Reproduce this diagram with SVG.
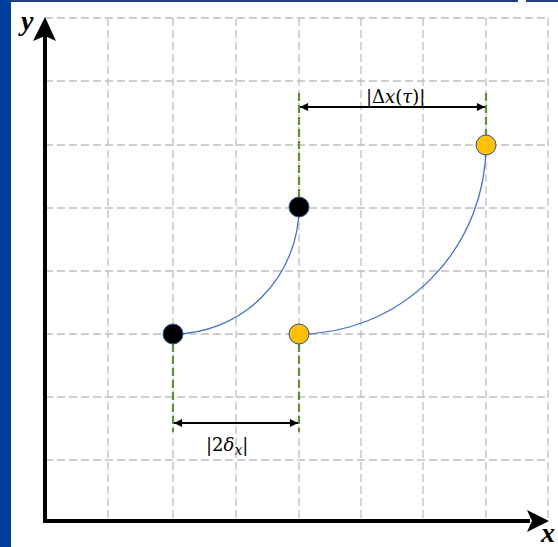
<svg xmlns="http://www.w3.org/2000/svg" width="558" height="547" viewBox="0 0 558 547">
<style>
.grid{stroke:#BFBFBF;stroke-width:1.3;stroke-dasharray:8 4;fill:none}
.green{stroke:#5E8E3E;stroke-width:2.2;stroke-dasharray:8 4;fill:none}
.axis{stroke:#000;stroke-width:4;fill:none}
.dim{stroke:#000;stroke-width:1.8;fill:none;marker-start:url(#ah);marker-end:url(#ah)}
.curve{stroke:#4472C4;stroke-width:1.3;fill:none}
.blk{fill:#000;stroke:#2F528F;stroke-width:1}
.org{fill:#FFC000;stroke:#2F528F;stroke-width:1}
.lbl{font-family:"DejaVu Serif","Liberation Serif",serif;font-size:18px;fill:#000}
.ax{font-family:"Liberation Serif","DejaVu Serif",serif;font-size:28px;font-weight:bold;font-style:italic;fill:#000}
</style>
<defs>
<marker id="ah" viewBox="0 0 10 10" refX="10" refY="5" markerWidth="5" markerHeight="4.5" orient="auto-start-reverse" markerUnits="strokeWidth">
<path d="M0,0 L10,5 L0,10 z" fill="#000"/>
</marker>
</defs>
<rect width="558" height="547" fill="#fff"/>
<rect x="0" y="0" width="11" height="547" fill="#003F9E"/>
<rect x="11" y="0" width="507" height="2" fill="#1F3F7F"/>
<rect x="526" y="0" width="32" height="2" fill="#1F3F7F"/>
<g id="grid">
<path class="grid" d="M45,18H548M45,81H548M45,145H548M45,208H548M45,271H548M45,334H548M45,397H548M45,460H548"/>
<path class="grid" d="M108,18V521M173,18V521M236,18V521M299,18V521M361,18V521M423,18V521M486,18V521M548,18V521"/>
</g>
<g id="axes">
<path class="axis" d="M45,523V36"/>
<path d="M45,17 L33,41 L45,36 L56,41 z" fill="#000"/>
<path class="axis" d="M43,521H530"/>
<path d="M549,521 L527,510 L532,521 L527,532 z" fill="#000"/>
<text class="ax" x="21" y="30">y</text>
<text class="ax" x="541" y="542">x</text>
</g>
<g id="connectors">
<path class="green" d="M299,93V197M299,344V432M173,344V432M486,93V135"/>
<path class="curve" d="M173,334 A126,127 0 0 0 299,207"/>
<path class="curve" d="M299,334 A187,189 0 0 0 486,145"/>
<line class="dim" x1="300" y1="107" x2="485" y2="107"/>
<line class="dim" x1="174" y1="423" x2="298" y2="423"/>
</g>
<g id="p1"><circle class="blk" cx="173" cy="334" r="10"/></g>
<g id="p2"><circle class="blk" cx="299" cy="207" r="10"/></g>
<g id="p3"><circle class="org" cx="299" cy="334" r="10"/></g>
<g id="p4"><circle class="org" cx="486" cy="145" r="10"/></g>
<g id="label-dx"><text class="lbl" x="366" y="103">|Δ<tspan font-style="italic">x</tspan>(<tspan font-style="italic">τ</tspan>)|</text></g>
<g id="label-2d"><text class="lbl" x="206" y="451">|2<tspan font-style="italic">δ</tspan><tspan font-style="italic" font-size="14" dy="4">x</tspan><tspan dy="-4">|</tspan></text></g>
</svg>
